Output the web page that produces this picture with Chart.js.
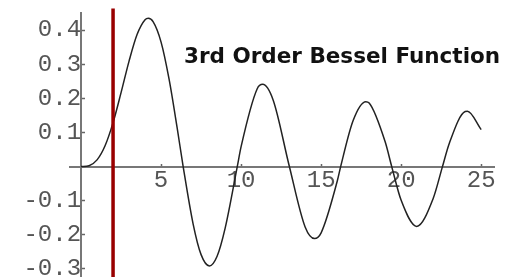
<!DOCTYPE html>
<html>
<head>
<meta charset="utf-8">
<script src="https://cdn.jsdelivr.net/npm/chart.js@4"></script>
<style>
  html, body { margin: 0; padding: 0; background: #fff; overflow: hidden; }
  #wrap { position: relative; width: 505px; height: 320px; }
</style>
</head>
<body>
<div id="wrap"><canvas id="c"></canvas></div>
<script>
// Values (3rd order Bessel function)
const xValues = [0, 0.5, 1, 1.5, 2, 2.5, 3, 3.5, 4, 4.2, 4.5, 5, 5.5, 6, 6.38, 7, 7.5, 8.02, 8.5, 9, 9.76, 10, 11, 11.35, 12, 13, 14, 14.59, 15, 16, 16.22, 17, 17.79, 18, 19, 19.41, 20, 20.97, 22, 22.58, 23, 24, 24.14, 25];
const yValues = [0, 0.0026, 0.0196, 0.061, 0.1289, 0.2166, 0.3091, 0.3868, 0.4302, 0.4344, 0.4247, 0.3648, 0.2561, 0.1148, 0, -0.1676, -0.258, -0.2911, -0.2626, -0.1809, 0, 0.0584, 0.2274, 0.241, 0.1951, 0.0033, -0.1768, -0.2108, -0.194, -0.0438, 0, 0.135, 0.19, 0.1863, 0.0725, 0, -0.0989, -0.1753, -0.0933, 0, 0.0672, 0.1612, 0.162, 0.1084];
const xTickValues = [5, 10, 15, 20, 25];
const yTickValues = [-0.3, -0.2, -0.1, 0.1, 0.2, 0.3, 0.4];
const markerX = [2, 2];
const markerY = [0.463, -0.36];
const titleText = '3rd Order Bessel Function';

const curve = xValues.map((x, i) => ({ x: x, y: yValues[i] }));
const marker = markerX.map((x, i) => ({ x: x, y: markerY[i] }));

const titlePlugin = {
  id: 'innerTitle',
  afterDraw(chart) {
    const ctx = chart.ctx;
    ctx.save();
    ctx.font = 'bold 21.5px "DejaVu Sans"';
    ctx.fillStyle = '#111';
    ctx.textAlign = 'left';
    ctx.textBaseline = 'alphabetic';
    ctx.fillText(titleText, 184, 63);
    ctx.restore();
  }
};

const tickFont = { family: '"Liberation Mono", "DejaVu Sans Mono", monospace', size: 24, lineHeight: 1 };

new Chart(document.getElementById('c'), {
  type: 'line',
  data: {
    datasets: [
      {
        data: marker,
        borderColor: '#990000',
        borderWidth: 3.5,
        pointRadius: 0,
        clip: false,
        tension: 0
      },
      {
        data: curve,
        borderColor: '#222',
        borderWidth: 1.5,
        pointRadius: 0,
        cubicInterpolationMode: 'monotone',
        fill: false
      }
    ]
  },
  options: {
    responsive: true,
    maintainAspectRatio: false,
    animation: false,
    layout: { padding: { left: 70, right: 11, top: 13, bottom: 30 } },
    plugins: { legend: { display: false }, tooltip: { enabled: false }, title: { display: false } },
    scales: {
      x: {
        type: 'linear',
        position: { y: 0 },
        min: -0.69,
        max: 25.8,
        afterBuildTicks(scale) { scale.ticks = xTickValues.map(v => ({ value: v })); },
        grid: { drawOnChartArea: false, drawTicks: true, tickLength: -4, tickColor: '#666', tickWidth: 1.5 },
        border: { display: true, color: '#777', width: 2 },
        ticks: { font: tickFont, color: '#555', padding: 6, maxRotation: 0, autoSkip: false }
      },
      y: {
        type: 'linear',
        position: { x: 0 },
        min: -0.3616,
        max: 0.45,
        afterBuildTicks(scale) { scale.ticks = yTickValues.map(v => ({ value: v })); },
        grid: { drawOnChartArea: false, drawTicks: true, tickLength: -5, tickColor: '#666', tickWidth: 1.5 },
        border: { display: true, color: '#777', width: 2 },
        ticks: { font: tickFont, color: '#555', padding: 0, autoSkip: false }
      }
    }
  },
  plugins: [titlePlugin]
});
</script>
</body>
</html>
